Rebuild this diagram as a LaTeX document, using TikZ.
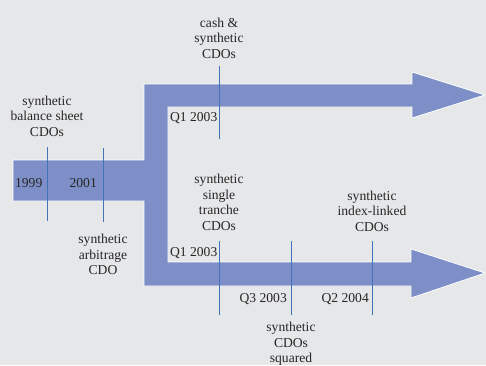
\documentclass[tikz,border=0pt]{standalone}
\usepackage{fontspec}
\setmainfont{Liberation Serif}
\usetikzlibrary{positioning}
\definecolor{bgcol}{RGB}{230,231,233}
\definecolor{bandcol}{RGB}{125,143,198}
\definecolor{tickcol}{RGB}{66,114,184}

\begin{document}
\begin{tikzpicture}[
    x=1pt, y=-1pt,
    band/.style={fill=bandcol, draw=white, line width=0.8pt, line join=miter},
    tick/.style={draw=tickcol, line width=1pt},
    event/.style={align=center, inner sep=0pt, text=black!85, font=\fontsize{13.6}{15.5}\selectfont},
    date/.style={inner sep=0pt, text=black!85, font=\fontsize{13.6}{15.5}\selectfont}
]
    \fill[bgcol] (0,0) rectangle (486,365);
    \useasboundingbox (0,0) rectangle (486,365);

    % the branching band
    \path[band] (13,160) -- (144,160) -- (144,84) -- (412,84) -- (412,72) -- (485,95)
        -- (412,118) -- (412,107) -- (168,107) -- (168,262) -- (411,262) -- (411,249)
        -- (485,273) -- (411,298) -- (411,286) -- (144,286) -- (144,201) -- (13,201) -- cycle;

    % ticks
    \coordinate (t99a) at (47,147);   \coordinate (t99b) at (47,221);
    \coordinate (t01a) at (103,148);  \coordinate (t01b) at (103,222);
    \coordinate (tcsa) at (219,66);   \coordinate (tcsb) at (219,139);
    \coordinate (tsta) at (219,241);  \coordinate (tstb) at (219,315);
    \coordinate (tsqa) at (291,241);  \coordinate (tsqb) at (291,315);
    \coordinate (tila) at (372,241);  \coordinate (tilb) at (372,315);
    \foreach \t in {t99, t01, tcs, tst, tsq, til}
        \draw[tick] (\t a) -- (\t b);

    % events
    \node[event, above=10.5pt of t99a] (balance) {synthetic\\balance sheet\\CDOs};
    \node[event, below=12pt of t01b] (arbitrage) {synthetic\\arbitrage\\CDO};
    \node[event, above=7.5pt of tcsa] (cash) {cash \&\\synthetic\\CDOs};
    \node[event, above=10.5pt of tsta] (tranche) {synthetic\\single\\tranche\\CDOs};
    \node[event, below=7pt of tsqb] (squared) {synthetic\\CDOs\\squared};
    \node[event, above=9.5pt of tila] (index) {synthetic\\index-linked\\CDOs};

    % dates
    \node[date, anchor=base east] (d1999) at (42.5,187.5) {1999};
    \node[date, anchor=base east] (d2001) at (97,187.5) {2001};
    \node[date, anchor=base east] (dq1top) at (217.5,121.5) {Q1 2003};
    \node[date, anchor=base east] (dq1bot) at (217.5,256) {Q1 2003};
    \node[date, anchor=base east] (dq3) at (287,302.5) {Q3 2003};
    \node[date, anchor=base east] (dq2) at (369,302.5) {Q2 2004};
\end{tikzpicture}
\end{document}
